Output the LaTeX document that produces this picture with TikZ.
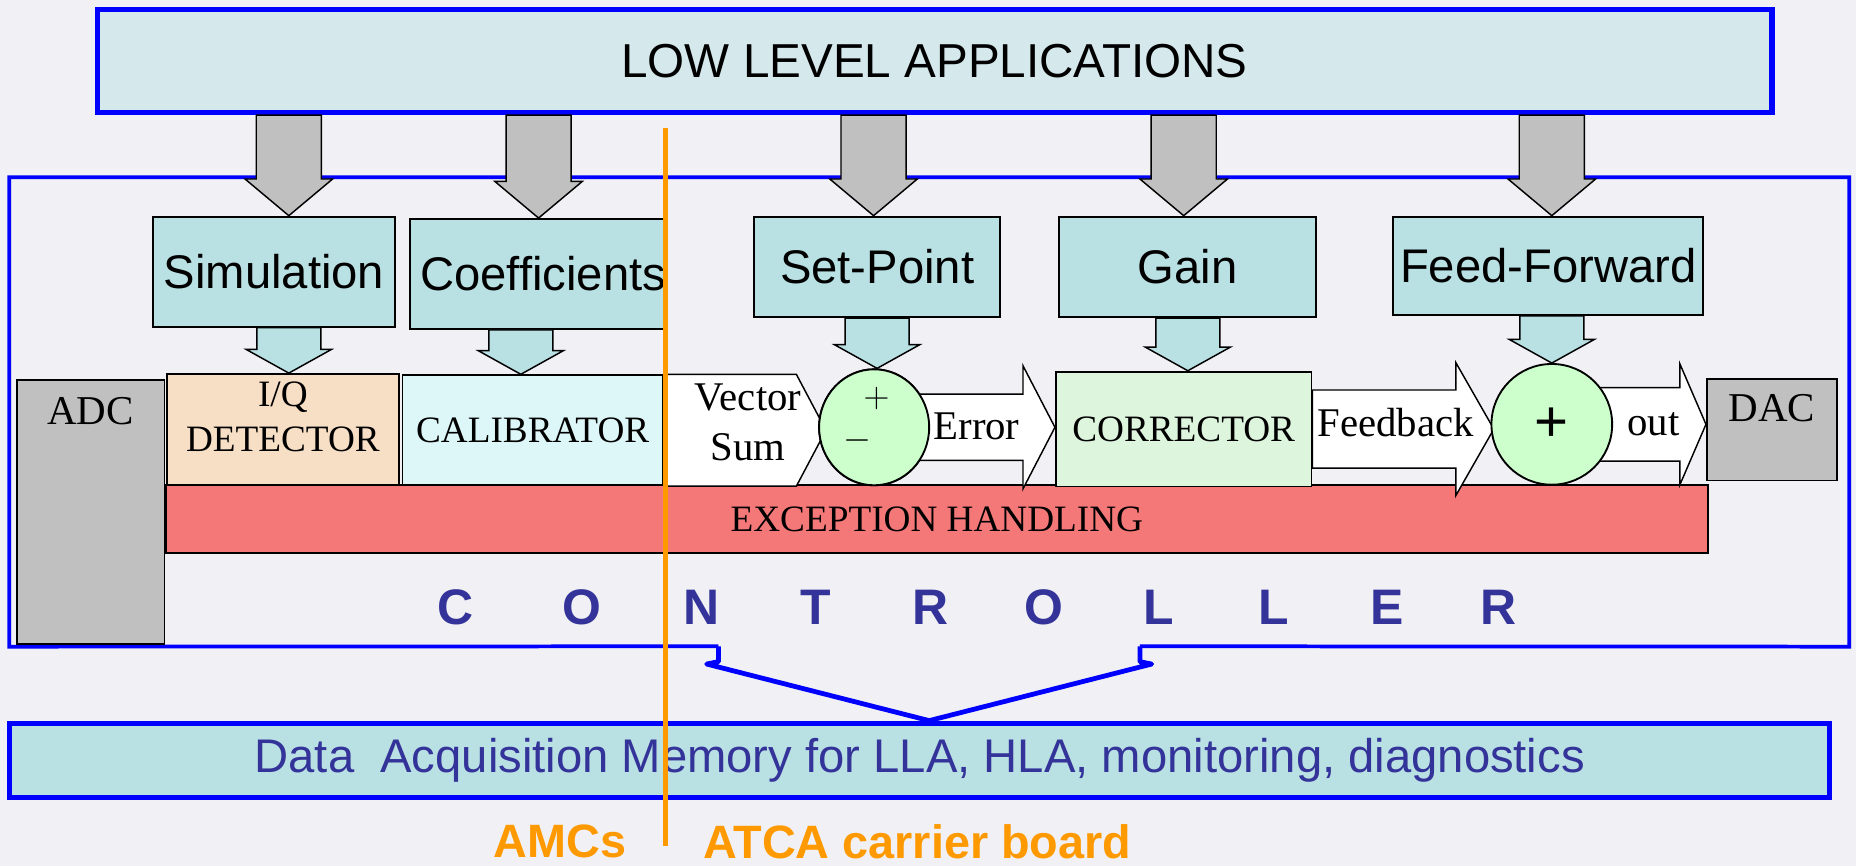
\documentclass[tikz,border=0pt]{standalone}
\usepackage{fontspec}
\setmainfont{Liberation Serif}
\setsansfont{Liberation Sans}
\usetikzlibrary{calc,shapes.geometric}

\definecolor{bgcol}{HTML}{F0F0F5}
\definecolor{llacol}{HTML}{D5E8EC}
\definecolor{boxteal}{HTML}{B9E0E3}
\definecolor{peach}{HTML}{F7DFC6}
\definecolor{calcol}{HTML}{DDF6F7}
\definecolor{corcol}{HTML}{DDF5DD}
\definecolor{sumcol}{HTML}{CCFFCC}
\definecolor{exccol}{HTML}{F47878}
\definecolor{grey75}{HTML}{C0C0C0}
\definecolor{ppblue}{HTML}{0000FF}
\definecolor{txtblue}{HTML}{333399}
\definecolor{amber}{HTML}{FF9900}

% block arrows: style, from, to, shaft half width, head half width, head length
\newcommand\blockdown[6]{%
  \path[#1] ($(#2)+(-#4,0)$) -- ($(#2)+(#4,0)$) -- ($(#3)+(#4,-#6)$) -- ($(#3)+(#5,-#6)$)
    -- (#3) -- ($(#3)+(-#5,-#6)$) -- ($(#3)+(-#4,-#6)$) -- cycle;}
\newcommand\blockright[6]{%
  \path[#1] ($(#2)+(0,-#4)$) -- ($(#3)+(-#6,-#4)$) -- ($(#3)+(-#6,-#5)$) -- (#3)
    -- ($(#3)+(-#6,#5)$) -- ($(#3)+(-#6,#4)$) -- ($(#2)+(0,#4)$) -- cycle;}

\begin{document}
\begin{tikzpicture}[x=0.02cm, y=-0.02cm,
    frame/.style={draw=ppblue, line width=1.8pt},
    box/.style={rectangle, draw=black, line width=0.9pt, inner sep=0pt},
    sansbox/.style={box, fill=boxteal, font=\sffamily\fontsize{22.7}{27}\selectfont},
    serifbox/.style={box, align=center, font=\fontsize{17.9}{21.5}\selectfont},
    graybar/.style={draw=black, line width=0.7pt, fill=grey75},
    tealbar/.style={draw=black, line width=0.7pt, fill=boxteal},
    whitebar/.style={draw=black, line width=0.7pt, fill=white},
    arrtxt/.style={inner sep=0pt, align=center, font=\fontsize{19.6}{23.8}\selectfont},
    ctl/.style={inner sep=0pt, text=txtblue, font=\sffamily\bfseries\fontsize{24}{24}\selectfont},
    board/.style={inner sep=0pt, text=amber, font=\sffamily\bfseries\fontsize{22.5}{22.5}\selectfont}]
  \useasboundingbox (0,0) rectangle (1568,732);
  \fill[bgcol] (0,0) rectangle (1568,732);

  % applications
  \node[rectangle, draw=ppblue, line width=2.6pt, fill=llacol, minimum width=28.3cm, minimum height=1.74cm,
    font=\sffamily\fontsize{22.9}{27}\selectfont] (top) at (789.5,51.5) {LOW LEVEL APPLICATIONS};

  % controller frame
  \node[minimum width=31.08cm, minimum height=7.92cm] (ctrl) at (785,348) {};
  \coordinate (nl) at (607,546);
  \coordinate (nr) at (963,546);
  \draw[frame] (nl) -- (ctrl.south west) -- (ctrl.north west) -- (ctrl.north east) -- (ctrl.south east) -- (nr);

  % parameter boxes
  \node[sansbox, minimum width=4.10cm, minimum height=1.86cm] (sim) at (231.5,229.5) {Simulation};
  \node[sansbox, minimum width=4.32cm, minimum height=1.86cm,
    label={[name=coeftxt, inner sep=0pt, xshift=0.1cm, font=\sffamily\fontsize{22.7}{27}\selectfont]center:Coefficients}] (coef) at (454,231.5) {};
  \node[sansbox, minimum width=4.16cm, minimum height=1.70cm] (setp) at (741,225.5) {Set-Point};
  \node[sansbox, minimum width=4.34cm, minimum height=1.70cm] (gain) at (1003.5,225.5) {Gain};
  \node[sansbox, minimum width=5.24cm, minimum height=1.66cm] (ff) at (1308,224.5) {Feed-Forward};

  % signal chain
  \node[serifbox, fill=grey75, minimum width=2.50cm, minimum height=4.46cm,
    label={[name=adctxt, anchor=north, inner sep=0pt, yshift=-0.3cm, font=\fontsize{19.7}{20}\selectfont]north:ADC}] (adc) at (76.5,432.5) {};
  \node[serifbox, fill=exccol, minimum width=26.06cm, minimum height=1.14cm] (exc) at (791.5,438.5) {EXCEPTION HANDLING};
  \node[serifbox, fill=peach, minimum width=3.92cm, minimum height=1.88cm,
    label={[name=iqtxt, align=center, inner sep=0pt, yshift=0.22cm, font=\fontsize{17.9}{21.5}\selectfont]center:I/Q\\DETECTOR}] (iq) at (239,363) {};
  \node[serifbox, fill=calcol, minimum width=4.40cm, minimum height=1.86cm] (cal) at (450,363.5) {CALIBRATOR};
  \node[serifbox, fill=corcol, minimum width=4.32cm, minimum height=1.94cm] (corr) at (1000,362.5) {CORRECTOR};
  \node[serifbox, fill=grey75, minimum width=2.20cm, minimum height=1.72cm,
    label={[name=dactxt, anchor=north, inner sep=0pt, yshift=-0.28cm, font=\fontsize{19.7}{20}\selectfont]north:DAC}] (dac) at (1497,363) {};

  % white arrows
  \path[whitebar] (cal.north east) -- ($(cal.north east)+(112,0)$) -- ($(cal.east)+(137,0)$)
    -- ($(cal.south east)+(112,0)$) -- (cal.south east) -- cycle;
  \node[ellipse, draw=black, line width=0.9pt, minimum width=1.86cm, minimum height=1.96cm] (diff) at (738.5,361) {};
  \blockright{whitebar}{diff.center}{diff.center -| corr.west}{28}{52}{27}
  \blockright{whitebar}{corr.east}{corr.east -| 1262,0}{33}{56}{32}
  \blockright{whitebar}{1350,358.5}{1350,358.5 -| dac.west}{31}{51}{22}

  % summing points
  \node[ellipse, draw=black, line width=0.9pt, fill=sumcol, minimum width=1.86cm, minimum height=1.96cm] (diff) at (738.5,361) {};
  \node[circle, draw=black, line width=0.9pt, fill=sumcol, minimum size=2.04cm, inner sep=0pt,
    font=\sffamily\fontsize{28}{28}\selectfont] (sum) at (1311,358.5) {+};
  \node[inner sep=0pt, font=\fontsize{18}{18}\selectfont] (plus) at ($(diff)+(2,-24)$) {$+$};
  \node[inner sep=0pt, font=\fontsize{18}{18}\selectfont] (minus) at ($(diff)+(-14,11)$) {$-$};

  \node[arrtxt] (vstxt) at (632,357) {Vector\\Sum};
  \node[arrtxt] (errtxt) at (825,360) {Error};
  \node[arrtxt] (fbtxt) at (1179,357) {Feedback};
  \node[arrtxt] (outtxt) at (1397,358) {out};

  % arrows from the applications
  \foreach \bx/\dx in {sim/12.5, coef/1, setp/-3, gain/-3.5, ff/3} {
    \coordinate (g) at ($(\bx.north)+(\dx,0)$);
    \blockdown{graybar}{top.south -| g}{g}{27.5}{37}{31}
  }
  % arrows into the chain
  \foreach \bx/\tg/\dx in {sim/iq/12.5, coef/cal/-14, setp/diff/0, gain/corr/0, ff/sum/3} {
    \coordinate (t) at ($(\bx.south)+(\dx,0)$);
    \blockdown{tealbar}{t}{\tg.north -| t}{27}{36}{20}
  }

  \foreach \ch/\xx [count=\i] in {C/385, O/492, N/593, T/689, R/786, O/882, L/979, L/1076, E/1172, R/1266}
    \node[ctl] (ctl\i) at (\xx,513.5) {\ch};

  % acquisition memory
  \node[rectangle, draw=ppblue, line width=2.5pt, fill=boxteal, minimum width=30.76cm, minimum height=1.26cm,
    text=txtblue, font=\sffamily\fontsize{22.7}{27}\selectfont] (daq) at (777,642.5)
    {Data\ \ Acquisition Memory for LLA, HLA, monitoring, diagnostics};
  \coordinate (tip) at ($(daq.north)+(8,0)$);
  \draw[draw=ppblue, line width=2.3pt, line join=round] (nl) -- ++(0,13) -- ++(-10,2) -- (tip)
    -- ($(nr)+(10,15)$) -- ++(-10,-2) -- (nr);

  % board split
  \draw[amber, line width=2.3pt] (562,108) -- (562,715);
  \node[board] (amc) at (473,711) {AMCs};
  \node[board] (atca) at (775,711) {ATCA carrier board};
\end{tikzpicture}
\end{document}
